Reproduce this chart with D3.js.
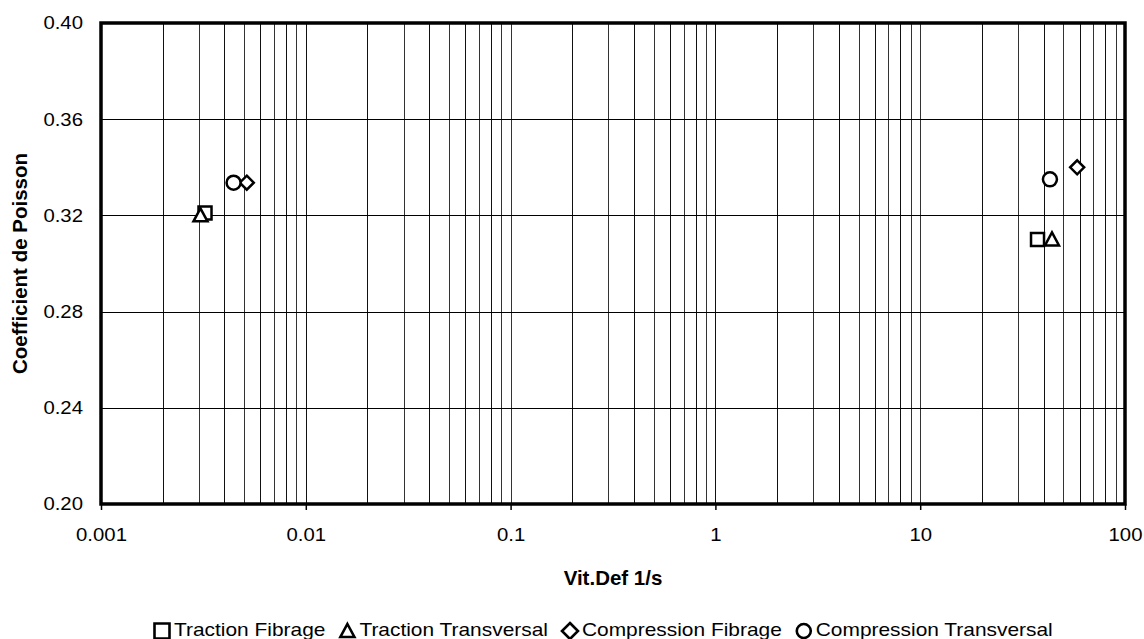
<!DOCTYPE html>
<html><head><meta charset="utf-8">
<script src="https://cdn.jsdelivr.net/npm/d3@7"></script>
<style>
body{margin:0;background:#fff;font-family:"Liberation Sans",Arial,sans-serif;}
</style></head>
<body><svg id="c" width="1144" height="639"></svg>
<script>
const seriesNames = ["Traction Fibrage","Traction Transversal","Compression Fibrage","Compression Transversal"];
const seriesShapes = ["square","triangle","diamond","circle"];
const tractionFibrageX = [0.00322, 37.4];
const tractionFibrageY = [0.321, 0.310];
const tractionTransversalX = [0.00306, 44.0];
const tractionTransversalY = [0.320, 0.310];
const compressionFibrageX = [0.00515, 58.4];
const compressionFibrageY = [0.3336, 0.340];
const compressionTransversalX = [0.00444, 43.0];
const compressionTransversalY = [0.3336, 0.335];
const xTicks = [0.001,0.01,0.1,1,10,100];
const xTickLabels = ["0.001","0.01","0.1","1","10","100"];
const yTicks = [0.20,0.24,0.28,0.32,0.36,0.40];
const yTickLabels = ["0.20","0.24","0.28","0.32","0.36","0.40"];

const seriesX = [tractionFibrageX,tractionTransversalX,compressionFibrageX,compressionTransversalX];
const seriesY = [tractionFibrageY,tractionTransversalY,compressionFibrageY,compressionTransversalY];

const FONT = "Liberation Sans, Arial, sans-serif";
const svg = d3.select("#c");
const L=101, R=1125, T=23, B=504;
const x = d3.scaleLog().domain([0.001,100]).range([L,R]);
const y = d3.scaleLinear().domain([0.20,0.40]).range([B,T]);

function stretch(sel, k){
  sel.each(function(){
    const w = this.getComputedTextLength();
    d3.select(this).attr("textLength", w*k).attr("lengthAdjust","spacingAndGlyphs");
  });
}

// minor vertical grid
const minor=[];
for(let e=-3;e<2;e++){for(let k=2;k<=9;k++){minor.push(k*Math.pow(10,e));}}
const majorInner = xTicks.slice(1,-1);
const g = svg.append("g");
g.selectAll("line.vm").data(minor.concat(majorInner)).enter().append("line")
 .attr("x1",d=>Math.round(x(d))+0.5).attr("x2",d=>Math.round(x(d))+0.5)
 .attr("y1",T).attr("y2",B).attr("stroke",(d,i)=>i%2?"#333":"#111").attr("stroke-width",1);
g.selectAll("line.h").data(yTicks.slice(1,-1)).enter().append("line")
 .attr("x1",L).attr("x2",R).attr("y1",d=>Math.round(y(d))+0.5).attr("y2",d=>Math.round(y(d))+0.5)
 .attr("stroke","#000").attr("stroke-width",1);

// axes
const xAxis = d3.axisBottom(x).tickValues(xTicks).tickFormat((d,i)=>xTickLabels[i]).tickSize(6).tickPadding(18);
const ax = svg.append("g").attr("transform",`translate(0,${B})`).call(xAxis);
ax.select(".domain").remove();
ax.selectAll("text").attr("font-size",18.5).attr("font-family",FONT).attr("fill","#000");
ax.selectAll("line").attr("stroke","#000").attr("stroke-width",1.5);
stretch(ax.selectAll("text"),1.1);
const yAxis = d3.axisLeft(y).tickValues(yTicks).tickFormat((d,i)=>yTickLabels[i]).tickSize(0).tickPadding(18);
const ay = svg.append("g").attr("transform",`translate(${L},0)`).call(yAxis);
ay.select(".domain").remove();
ay.selectAll("text").attr("font-size",18.5).attr("font-family",FONT).attr("fill","#000");
stretch(ay.selectAll("text"),1.1);

// border
svg.append("rect").attr("x",L).attr("y",T).attr("width",R-L).attr("height",B-T)
 .attr("fill","none").attr("stroke","#000").attr("stroke-width",3.5);

// markers
function shapePath(s, size){
  const h=size/2;
  if(s==="square") return `M${-h},${-h}H${h}V${h}H${-h}Z`;
  if(s==="triangle") return `M0,${-h}L${h},${h*0.85}L${-h},${h*0.85}Z`;
  if(s==="diamond") return `M0,${-h}L${h},0L0,${h}L${-h},0Z`;
  return null;
}
function drawMarker(sel, s, size, sw){
  if(s==="circle"){
    sel.append("circle").attr("r",size/2).attr("fill","#fff").attr("stroke","#000").attr("stroke-width",sw);
  } else {
    sel.append("path").attr("d",shapePath(s,size)).attr("fill","#fff").attr("stroke","#000").attr("stroke-width",sw).attr("stroke-linejoin","miter");
  }
}
const markerSize=[13,14,14,14];
seriesNames.forEach((n,i)=>{
  const pts = seriesX[i].map((v,j)=>[v,seriesY[i][j]]);
  pts.forEach(p=>{
    const m = svg.append("g").attr("transform",`translate(${x(p[0])},${y(p[1])})`);
    drawMarker(m, seriesShapes[i], markerSize[i], 2.5);
  });
});

// titles
svg.append("text").attr("x",(L+R)/2).attr("y",585).attr("text-anchor","middle").attr("font-family",FONT)
 .attr("font-size",20.5).attr("font-weight","bold").text("Vit.Def 1/s");
svg.append("text").attr("transform",`translate(27,${(T+B)/2}) rotate(-90)`).attr("text-anchor","middle").attr("font-family",FONT)
 .attr("font-size",20.5).attr("font-weight","bold").text("Coefficient de Poisson");

// legend
const leg = svg.append("g");
let lx = 154;
const ly = 631;
const legMarkerSize = {square:15, triangle:14, diamond:16, circle:14};
seriesNames.forEach((n,i)=>{
  const s = seriesShapes[i];
  const m = leg.append("g").attr("transform",`translate(${lx+8},${ly})`);
  drawMarker(m, s, legMarkerSize[s], 2.6);
  const t = leg.append("text").attr("x",lx+20).attr("y",ly+5).attr("font-family",FONT).attr("font-size",19).text(n);
  stretch(t,1.1);
  const w = +t.attr("textLength");
  lx = lx + 20 + w + 14;
});
</script></body></html>
